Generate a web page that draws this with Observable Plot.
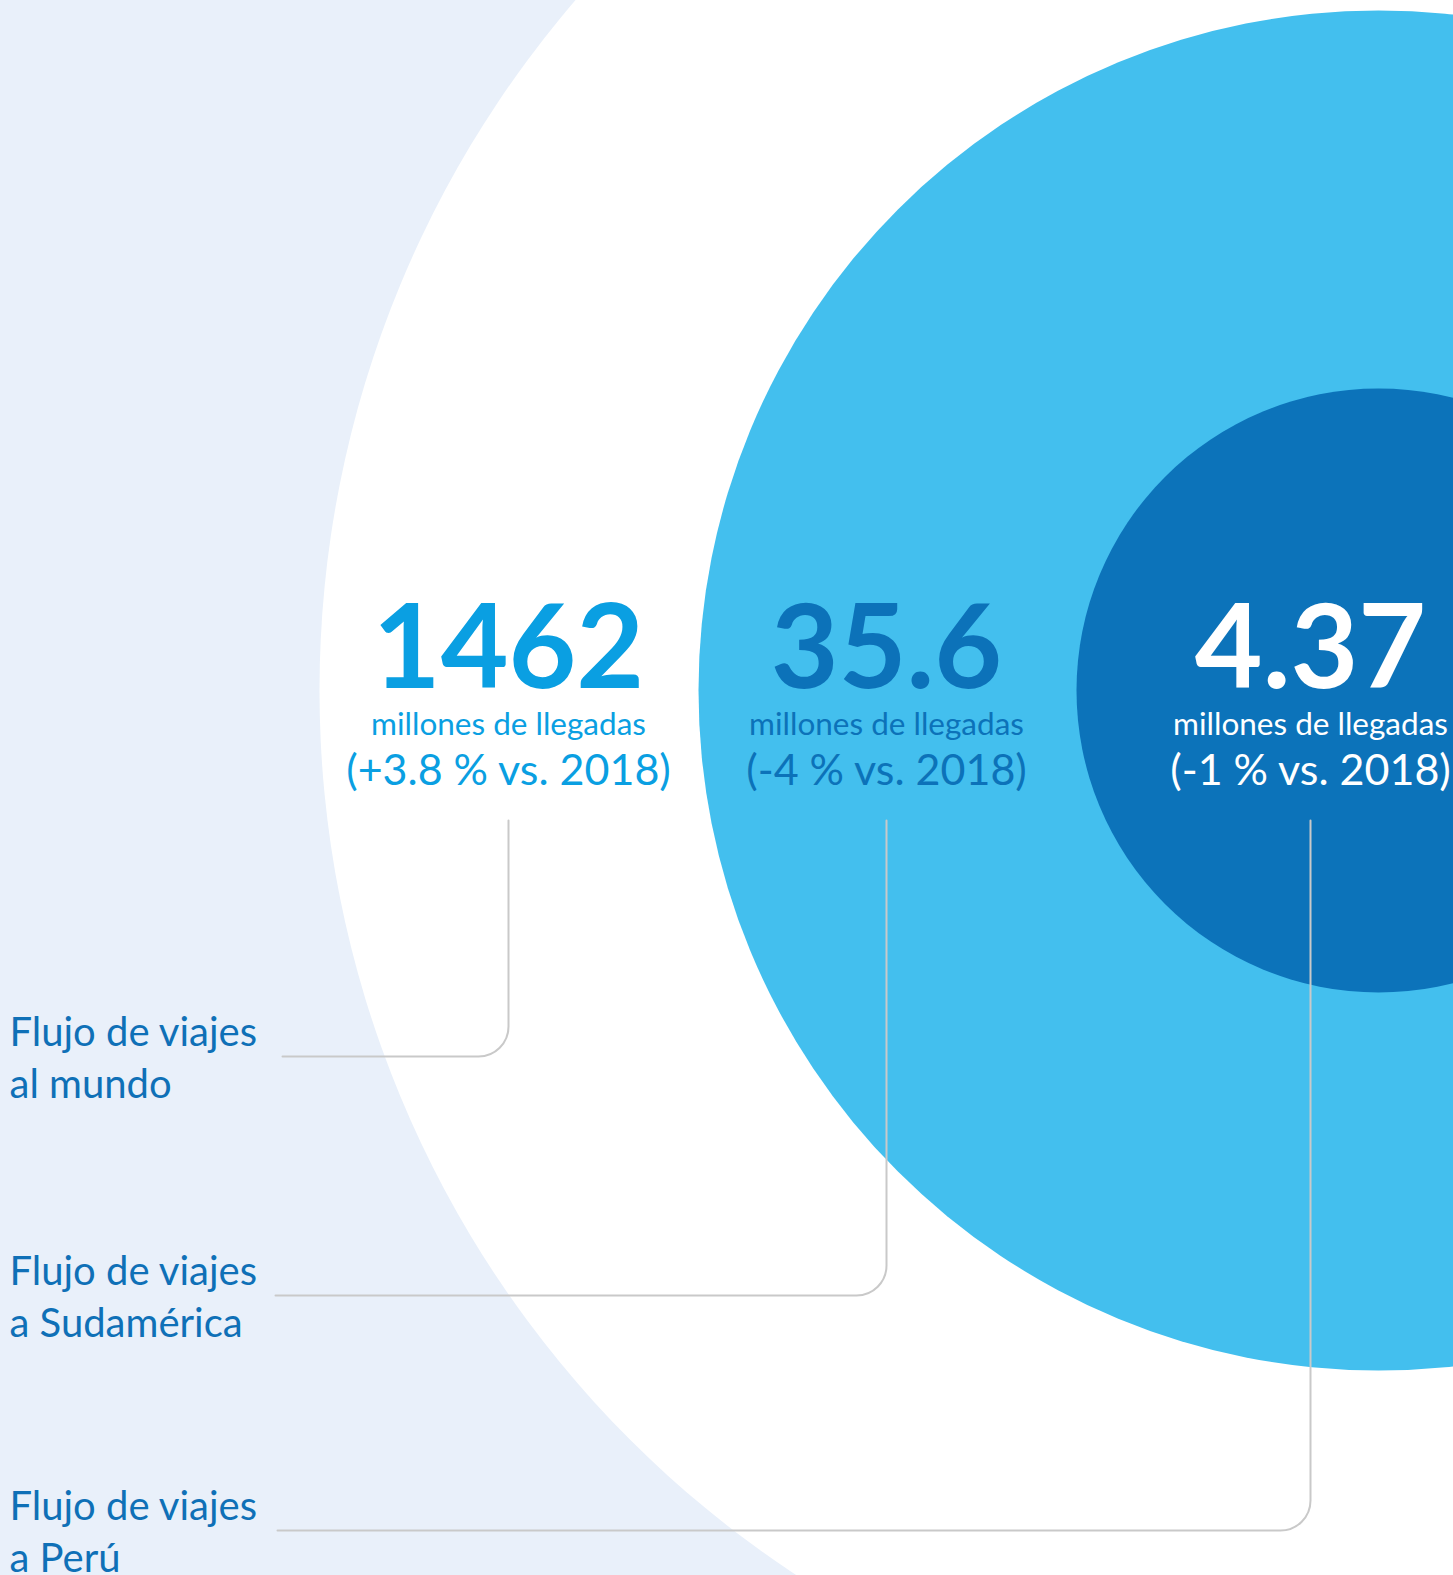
<!DOCTYPE html>
<html>
<head>
<meta charset="utf-8">
<script src="https://cdn.jsdelivr.net/npm/d3@7"></script>
<script src="https://cdn.jsdelivr.net/npm/@observablehq/plot@0.6"></script>
<style>
  html, body { margin: 0; padding: 0; background: #e9f0fa; overflow: hidden; }
  #chart svg { display: block; background: transparent; }
</style>
</head>
<body>
<div id="chart"></div>
<script>
// ---- data ----
const regions = ["Flujo de viajes\nal mundo", "Flujo de viajes\na Sudamérica", "Flujo de viajes\na Perú"];
const arrivals = [1462, 35.6, 4.37];          // millones de llegadas, 2019
const changes = ["+3.8 %", "-4 %", "-1 %"];    // vs. 2018
const unitLabel = "millones de llegadas";
const baseYear = "2018";

// ---- layout / style ----
const W = 1453, H = 1575;
const center = {x: 1378, y: 690};
const ringFill = ["#ffffff", "#43bfee", "#0c73ba"];
const valueColor = ["#0a9fe2", "#0c72b9", "#ffffff"];
const labelX = [508, 886, 1310];
const rowY = [1056, 1295, 1530];
const lineEndX = [282, 275, 277];
const labelColor = "#0f70b7";
const font = "Lato, 'Open Sans', sans-serif";

const rows = regions.map((region, i) => ({
  region, value: arrivals[i], change: changes[i], i
}));

const connectors = rows.flatMap(d => [
  {i: d.i, x: labelX[d.i], y: 820},
  {i: d.i, x: labelX[d.i], y: rowY[d.i]},
  {i: d.i, x: lineEndX[d.i], y: rowY[d.i]}
]);

function roundedCorners(radius) {
  return function(context) {
    let pts = [];
    return {
      areaStart() {}, areaEnd() {},
      lineStart() { pts = []; },
      lineEnd() {
        if (!pts.length) return;
        context.moveTo(pts[0][0], pts[0][1]);
        for (let k = 1; k < pts.length - 1; k++) {
          context.arcTo(pts[k][0], pts[k][1], pts[k + 1][0], pts[k + 1][1], radius);
        }
        const l = pts[pts.length - 1];
        context.lineTo(l[0], l[1]);
      },
      point(x, y) { pts.push([+x, +y]); }
    };
  };
}

const chart = Plot.plot({
  width: W,
  height: H,
  margin: 0,
  style: {background: "transparent", overflow: "hidden"},
  x: {domain: [0, W], range: [0, W], axis: null},
  y: {domain: [0, H], range: [0, H], axis: null},
  r: {type: "linear", domain: [4.37, 35.6, 1462], range: [302, 680, 1059]},
  marks: [
    Plot.dot(rows, {
      x: () => center.x, y: () => center.y, r: "value",
      fill: d => ringFill[d.i], stroke: null, clip: true
    }),
    Plot.line(connectors, {
      x: "x", y: "y", z: "i", stroke: "#c9c9c9", strokeWidth: 2,
      curve: roundedCorners(30)
    }),
    Plot.text(rows, {
      x: d => labelX[d.i], y: () => 687, text: d => String(d.value),
      fill: d => valueColor[d.i], fontSize: 117, fontWeight: 700,
      fontFamily: font, textAnchor: "middle", lineAnchor: "bottom",
      style: {letterSpacing: "-4px"}
    }),
    Plot.text(rows, {
      x: d => labelX[d.i], y: () => 734, text: () => unitLabel,
      fill: d => valueColor[d.i], fontSize: 31.5, fontFamily: font,
      textAnchor: "middle", lineAnchor: "bottom"
    }),
    Plot.text(rows, {
      x: d => labelX[d.i], y: () => 784, text: d => `(${d.change} vs. ${baseYear})`,
      fill: d => valueColor[d.i], fontSize: 43, fontFamily: font,
      textAnchor: "middle", lineAnchor: "bottom"
    }),
    Plot.text(rows, {
      x: () => 9, y: d => rowY[d.i] + 41, text: "region",
      fill: labelColor, fontSize: 40, fontFamily: font,
      textAnchor: "start", lineAnchor: "bottom", lineHeight: 1.3
    })
  ]
});
document.getElementById("chart").append(chart);
</script>
</body>
</html>
